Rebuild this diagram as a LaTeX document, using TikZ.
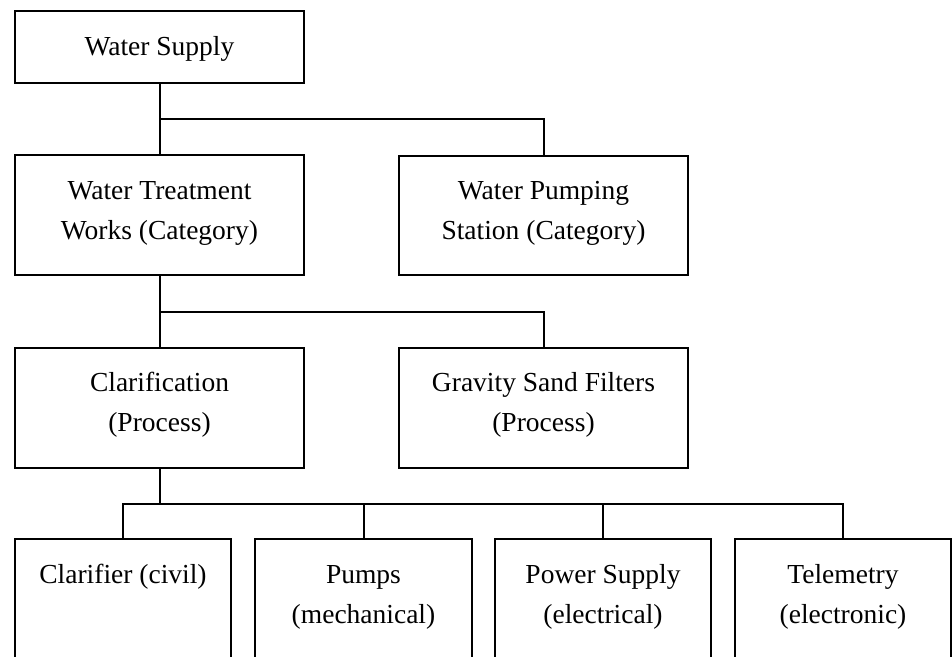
\documentclass[tikz,border=0pt]{standalone}
\usepackage{fontspec}
\setmainfont{Liberation Serif}
\usetikzlibrary{calc}
\begin{document}
\begin{tikzpicture}[x=1pt,y=-1pt,
  box/.style={draw, line width=2pt, rectangle, inner sep=0pt, anchor=north west},
  lbl/.style={anchor=base, inner sep=0pt, font=\fontsize{27.5}{40}\selectfont},
  link/.style={line width=2pt}]
\useasboundingbox (0,0) rectangle (952,656);
\clip (0,0) rectangle (952,656);
\fill[white] (0,0) rectangle (952,656);
% boxes
\node[box, minimum width=289pt, minimum height=72pt] (ws) at (14,10) {};
\node[box, minimum width=289pt, minimum height=120pt] (wtw) at (14,154) {};
\node[box, minimum width=289pt, minimum height=119pt] (wps) at (398,155) {};
\node[box, minimum width=289pt, minimum height=120pt] (cla) at (14,347) {};
\node[box, minimum width=289pt, minimum height=120pt] (gsf) at (398,347) {};
\node[box, minimum width=216pt, minimum height=200pt] (clr) at (14,538) {};
\node[box, minimum width=217pt, minimum height=200pt] (pum) at (254,538) {};
\node[box, minimum width=216pt, minimum height=200pt] (pow) at (494,538) {};
\node[box, minimum width=216pt, minimum height=200pt] (tel) at (734,538) {};
% texts
\node[lbl] (wsA) at ($(ws.north)+(0,45)$) {Water Supply};
\node[lbl] (wtwA) at ($(wtw.north)+(0,45)$) {Water Treatment};
\node[lbl] (wtwB) at ($(wtw.north)+(0,85)$) {Works (Category)};
\node[lbl] (wpsA) at ($(wps.north)+(0,44)$) {Water Pumping};
\node[lbl] (wpsB) at ($(wps.north)+(0,84)$) {Station (Category)};
\node[lbl] (claA) at ($(cla.north)+(0,44)$) {Clarification};
\node[lbl] (claB) at ($(cla.north)+(0,84)$) {(Process)};
\node[lbl] (gsfA) at ($(gsf.north)+(0,44)$) {Gravity Sand Filters};
\node[lbl] (gsfB) at ($(gsf.north)+(0,84)$) {(Process)};
\node[lbl] (clrA) at ($(clr.north)+(0,45)$) {Clarifier (civil)};
\node[lbl] (pumA) at ($(pum.north)+(0,45)$) {Pumps};
\node[lbl] (pumB) at ($(pum.north)+(0,85)$) {(mechanical)};
\node[lbl] (powA) at ($(pow.north)+(0,45)$) {Power Supply};
\node[lbl] (powB) at ($(pow.north)+(0,85)$) {(electrical)};
\node[lbl] (telA) at ($(tel.north)+(0,45)$) {Telemetry};
\node[lbl] (telB) at ($(tel.north)+(0,85)$) {(electronic)};
% junctions
\coordinate (j1) at ($(ws.south)!0.5!(wtw.north)$);
\coordinate (j2) at ($(wtw.south)!0.5!(cla.north)$);
\coordinate (j3) at ($(cla.south)!0.5!(clr.north -| cla.south)$);
% connectors
\draw[link] (ws.south) -- (wtw.north);
\draw[link] (j1) -| (wps.north);
\draw[link] (wtw.south) -- (cla.north);
\draw[link] (j2) -| (gsf.north);
\draw[link] (cla.south) -- (j3);
\draw[link] (j3) -| (clr.north);
\draw[link] (j3) -| (pum.north);
\draw[link] (j3) -| (pow.north);
\draw[link] (j3) -| (tel.north);
\end{tikzpicture}
\end{document}
